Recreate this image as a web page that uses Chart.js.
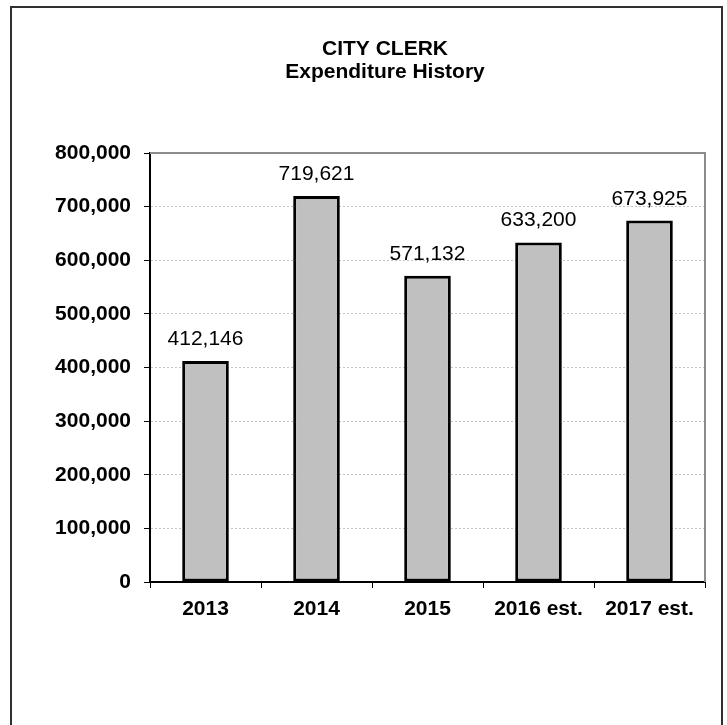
<!DOCTYPE html>
<html>
<head>
<meta charset="utf-8">
<title>City Clerk Expenditure History</title>
<script src="https://cdn.jsdelivr.net/npm/chart.js@4/dist/chart.umd.min.js"></script>
<style>
  html, body { margin: 0; padding: 0; background: #fff; }
  canvas { display: block; }
</style>
</head>
<body>
<canvas id="chart" width="727" height="725"></canvas>
<script>
// Expenditure by year (dollars)
const categories = ['2013', '2014', '2015', '2016 est.', '2017 est.'];
const expenditures = [412146, 719621, 571132, 633200, 673925];
const titleLines = ['CITY CLERK', 'Expenditure History'];
const yMax = 800000;
const yStep = 100000;

const FONT = '"Liberation Sans", Arial, Helvetica, sans-serif';

const fmt = v => v.toLocaleString('en-US');

// Frame around the whole figure, heading, and plot-area border
const framePlugin = {
  id: 'frame',
  beforeDraw(chart) {
    const ctx = chart.ctx;
    ctx.save();
    ctx.fillStyle = '#fff';
    ctx.fillRect(0, 0, chart.width, chart.height);
    ctx.strokeStyle = '#303030';
    ctx.lineWidth = 2;
    ctx.strokeRect(11, 7, 711, chart.height + 20);

    // two-line heading, centred over the figure frame
    ctx.fillStyle = '#000';
    ctx.font = 'bold 21px ' + FONT;
    ctx.textAlign = 'center';
    ctx.textBaseline = 'alphabetic';
    titleLines.forEach((line, i) => {
      ctx.fillText(line, 385, 55 + i * 22.6);
    });
    ctx.restore();
  },
  afterDatasetsDraw(chart) {
    const { ctx, chartArea: a } = chart;
    ctx.save();
    ctx.strokeStyle = '#8c8c8c';
    ctx.lineWidth = 2;
    ctx.beginPath();
    ctx.moveTo(a.left, a.top);
    ctx.lineTo(a.right, a.top);
    ctx.lineTo(a.right, a.bottom);
    ctx.stroke();
    ctx.restore();
  }
};

// Value labels above each bar
const valueLabels = {
  id: 'valueLabels',
  afterDatasetsDraw(chart) {
    const ctx = chart.ctx;
    const meta = chart.getDatasetMeta(0);
    ctx.save();
    ctx.font = '21px ' + FONT;
    ctx.fillStyle = '#000';
    ctx.textAlign = 'center';
    ctx.textBaseline = 'alphabetic';
    meta.data.forEach((bar, i) => {
      ctx.fillText(fmt(chart.data.datasets[0].data[i]), bar.x, bar.y - 16);
    });
    ctx.restore();
  }
};

new Chart(document.getElementById('chart'), {
  type: 'bar',
  data: {
    labels: categories,
    datasets: [{
      data: expenditures,
      backgroundColor: '#c0c0c0',
      borderColor: '#000',
      borderWidth: 3,
      borderSkipped: false,
      barPercentage: 0.42,
      categoryPercentage: 1.0
    }]
  },
  options: {
    responsive: false,
    animation: false,
    devicePixelRatio: 1,
    layout: { padding: { top: 153, right: 22, bottom: 0, left: 0 } },
    plugins: {
      legend: { display: false },
      tooltip: { enabled: false },
      title: { display: false }
    },
    scales: {
      x: {
        offset: true,
        grid: {
          display: true,
          offset: true,
          drawOnChartArea: false,
          drawTicks: true,
          tickLength: 6,
          tickColor: '#000'
        },
        border: { display: true, color: '#000', width: 2 },
        ticks: {
          color: '#000',
          padding: 9,
          maxRotation: 0,
          autoSkip: false,
          font: { family: FONT, size: 21, weight: 'bold' }
        },
        afterFit(scale) { scale.height = 143; }
      },
      y: {
        min: 0,
        max: yMax,
        grid: {
          color: '#c4c4c4',
          lineWidth: 1,
          drawTicks: true,
          tickLength: 6,
          tickColor: '#000'
        },
        border: { display: true, color: '#000', width: 2, dash: [2, 2] },
        ticks: {
          stepSize: yStep,
          color: '#000',
          padding: 13,
          font: { family: FONT, size: 21, weight: 'bold' },
          callback: v => fmt(v)
        },
        afterFit(scale) { scale.width = 150; }
      }
    }
  },
  plugins: [framePlugin, valueLabels]
});
</script>
</body>
</html>
